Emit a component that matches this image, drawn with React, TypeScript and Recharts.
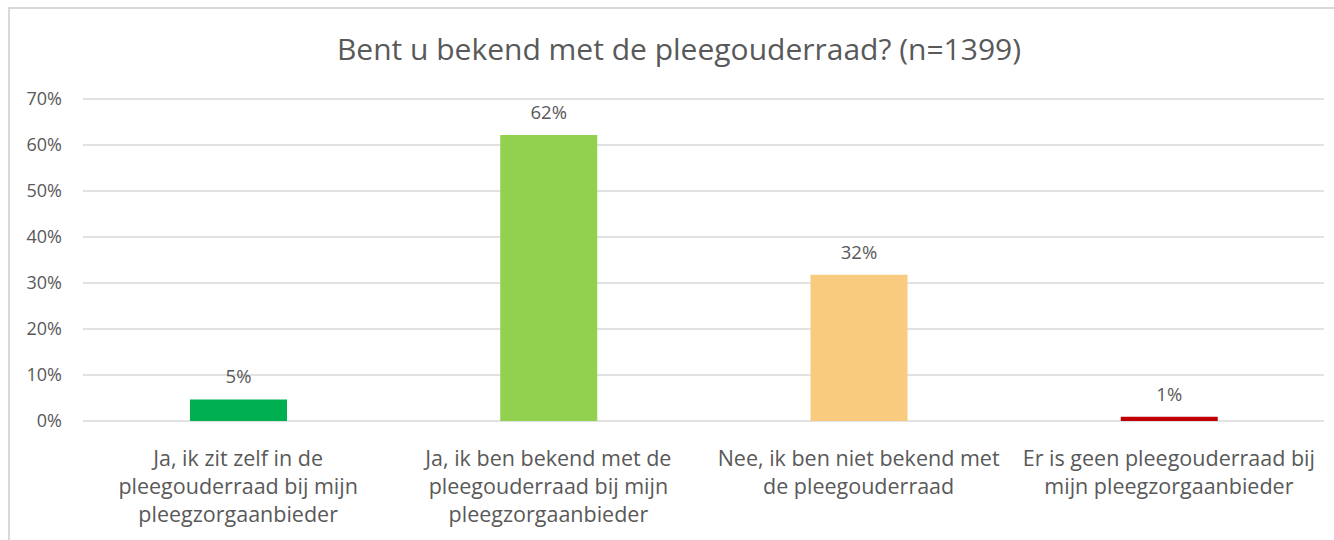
import { BarChart, Bar, XAxis, YAxis, CartesianGrid, Cell, LabelList } from "recharts";

const categories = [
  "Ja, ik zit zelf in de pleegouderraad bij mijn pleegzorgaanbieder",
  "Ja, ik ben bekend met de pleegouderraad bij mijn pleegzorgaanbieder",
  "Nee, ik ben niet bekend met de pleegouderraad",
  "Er is geen pleegouderraad bij mijn pleegzorgaanbieder",
];
const categoryLines = [
  ["Ja, ik zit zelf in de", "pleegouderraad bij mijn", "pleegzorgaanbieder"],
  ["Ja, ik ben bekend met de", "pleegouderraad bij mijn", "pleegzorgaanbieder"],
  ["Nee, ik ben niet bekend met", "de pleegouderraad"],
  ["Er is geen pleegouderraad bij", "mijn pleegzorgaanbieder"],
];
const percentages = [4.7, 62.2, 31.8, 0.9];
const percentLabels = ["5%", "62%", "32%", "1%"];
const barColors = ["#00B050", "#92D050", "#F8CB7E", "#C00000"];
const yTicks = [0, 10, 20, 30, 40, 50, 60, 70];

const data = categories.map((name, i) => ({
  name,
  value: percentages[i],
  label: percentLabels[i],
}));

const FONT = "'Open Sans', 'Noto Sans', sans-serif";
const TEXT = "#595959";

function CategoryTick({ x, y, payload }: { x?: number; y?: number; payload?: { index: number } }) {
  const lines = categoryLines[payload?.index ?? 0];
  return (
    <text x={x} y={y} textAnchor="middle" fill={TEXT} fontSize={21.5} fontFamily={FONT}>
      {lines.map((l, i) => (
        <tspan key={i} x={x} dy={i === 0 ? 37 : 28}>
          {l}
        </tspan>
      ))}
    </text>
  );
}

export default function App() {
  return (
    <div style={{ position: "absolute", left: 0, top: 0, width: 1334, height: 540, background: "#fff", overflow: "hidden" }}>
      <div
        style={{
          position: "absolute",
          left: 8,
          top: 7,
          width: 1340,
          height: 540,
          borderLeft: "2px solid #D9D9D9",
          borderTop: "2px solid #D9D9D9",
        }}
      />
      <div
        style={{
          position: "absolute",
          left: 24,
          top: 28,
          width: 1310,
          textAlign: "center",
          fontFamily: FONT,
          fontSize: 30,
          color: TEXT,
        }}
      >
        Bent u bekend met de pleegouderraad? (n=1399)
      </div>
      <BarChart
        width={1334}
        height={540}
        data={data}
        margin={{ top: 99, right: 10, left: 23, bottom: 19 }}
        style={{ position: "absolute", left: 0, top: 0 }}
      >
        <CartesianGrid vertical={false} stroke="#D9D9D9" strokeWidth={1.3} />
        <XAxis
          dataKey="name"
          axisLine={false}
          tickLine={false}
          height={100}
          interval={0}
          tick={<CategoryTick />}
        />
        <YAxis
          type="number"
          domain={[0, 70]}
          ticks={yTicks}
          width={60}
          axisLine={false}
          tickLine={false}
          tickSize={0}
          tickMargin={21}
          tickFormatter={(v) => `${v}%`}
          tick={{ fill: TEXT, fontSize: 18, fontFamily: FONT }}
        />
        <Bar dataKey="value" barSize={97} isAnimationActive={false}>
          {data.map((d, i) => (
            <Cell key={d.name} fill={barColors[i]} />
          ))}
          <LabelList dataKey="label" position="top" offset={16} fill={TEXT} fontSize={18.5} fontFamily={FONT} />
        </Bar>
      </BarChart>
    </div>
  );
}
